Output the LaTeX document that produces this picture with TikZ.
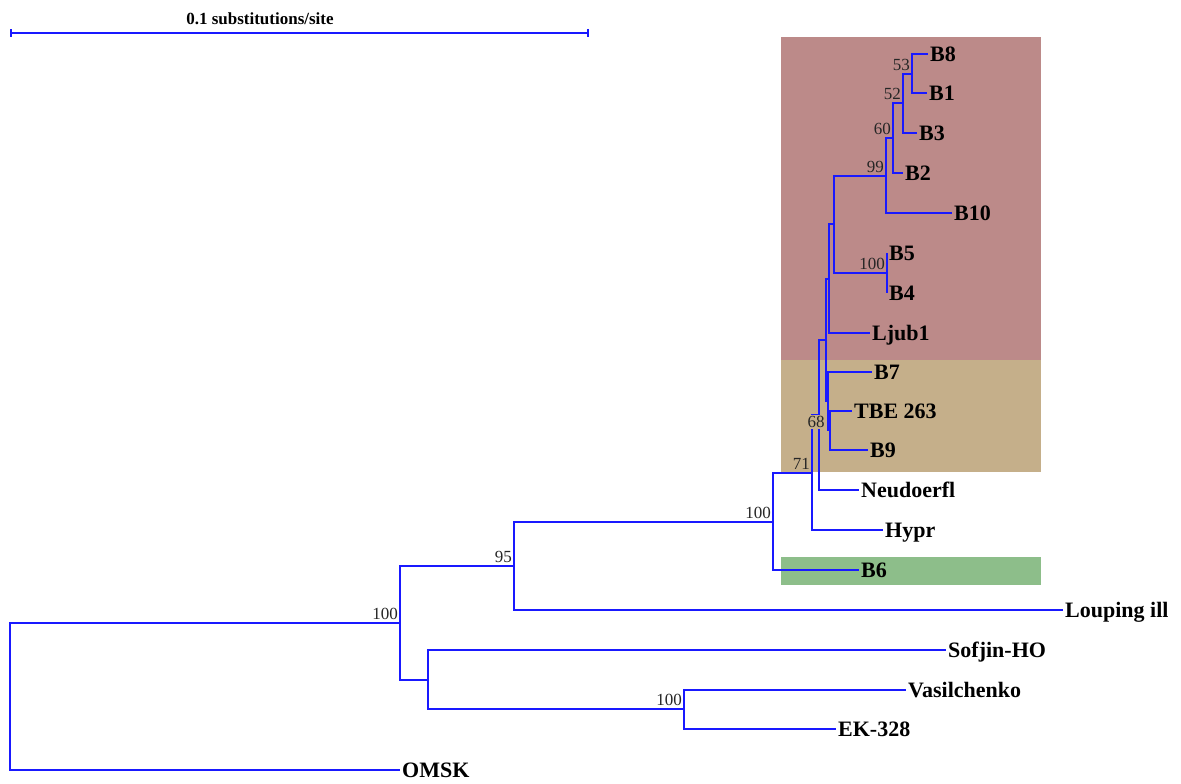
\documentclass[tikz,border=0pt]{standalone}
\usepackage{fontspec}
\setmainfont{Liberation Serif}
\usetikzlibrary{arrows.meta}
\definecolor{cladeRed}{RGB}{188,138,137}
\definecolor{cladeTan}{RGB}{197,175,138}
\definecolor{cladeGreen}{RGB}{141,190,138}
\definecolor{treeBlue}{RGB}{25,25,255}

\begin{document}
\begin{tikzpicture}[
  x=1pt, y=-1pt,
  branch/.style={draw=treeBlue, line width=1.6pt},
  leaf/.style={anchor=base west, inner sep=2pt, yshift=-7.3pt,
               font=\fontsize{22}{26}\selectfont\bfseries},
  boot/.style={anchor=south east, inner xsep=2pt, inner ysep=3.5pt,
               font=\fontsize{17}{20}\selectfont, text=black!85},
]
\useasboundingbox (0,0) rectangle (1181,784);

% Clade backgrounds
\fill[cladeRed] (781,37) rectangle (1041,360);
\fill[cladeTan] (781,360) rectangle (1041,472);
\fill[cladeGreen] (781,557) rectangle (1041,585);

% Scale bar
\coordinate (sbL) at (10,33);
\coordinate (sbR) at (589,33);
\draw[treeBlue, line width=1.6pt, {Bar[width=8pt]}-{Bar[width=8pt]}] (sbL) -- (sbR);
\node[font=\fontsize{17}{20}\selectfont\bfseries, anchor=base] (sbtext) at (260,25) {0.1 substitutions/site};

% Tips and their labels
\foreach \id/\x/\y/\lbl in {
  B8/928/54/B8, B1/927/93/B1, B3/917/133/B3, B2/903/173/B2, B10/952/213/B10,
  B5/887/253/B5, B4/887/293/B4, Ljub/870/333/Ljub1, B7/872/372/B7,
  TBE/852/411/TBE 263, B9/868/450/B9, Neud/859/490/Neudoerfl,
  Hypr/883/530/Hypr, B6/859/570/B6, Loup/1063/610/Louping ill,
  Sofj/946/650/Sofjin-HO, Vasil/906/690/Vasilchenko, EK/836/729/EK-328,
  OMSK/400/770/OMSK} {
  \coordinate (t\id) at (\x,\y);
  \node[leaf] (l\id) at (t\id) {\lbl};
}

% Internal nodes
\coordinate (n53) at (912,74);
\coordinate (n52) at (903,103);
\coordinate (n60) at (893,138);
\coordinate (n99) at (886,176);
\coordinate (nB54) at (887,273);
\coordinate (nA1) at (834,224);
\coordinate (nA2) at (829,279);
\coordinate (nR) at (830,430);
\coordinate (nQ) at (828,401);
\coordinate (nP1) at (826,340);
\coordinate (nP2) at (819,415);
\coordinate (nP3) at (812,473);
\coordinate (nP4) at (773,522);
\coordinate (nP5) at (514,566);
\coordinate (nP8) at (684,709);
\coordinate (nP7) at (428,680);
\coordinate (nP6) at (400,623);
\coordinate (nRoot) at (10,696);

% Branches
\foreach \p/\ch in {n53/tB8, n53/tB1, n52/n53, n52/tB3, n60/n52, n60/tB2,
  n99/n60, n99/tB10, nB54/tB5, nB54/tB4, nA1/n99, nA1/nB54, nA2/nA1,
  nA2/tLjub, nR/tTBE, nR/tB9, nQ/tB7, nQ/nR, nP1/nA2, nP1/nQ, nP2/nP1,
  nP2/tNeud, nP3/nP2, nP3/tHypr, nP4/nP3, nP4/tB6, nP5/nP4, nP5/tLoup,
  nP8/tVasil, nP8/tEK, nP7/tSofj, nP7/nP8, nP6/nP5, nP6/nP7,
  nRoot/nP6, nRoot/tOMSK}
  \draw[branch] (\p) |- (\ch);

% Bootstrap values
\foreach \n/\v in {n53/53, n52/52, n60/60, n99/99, nB54/100, nP3/71,
  nP4/100, nP5/95, nP6/100, nP8/100}
  \node[boot] (bs\n) at (\n) {\v};
\node[boot, anchor=center, fill=cladeTan, inner sep=1pt] (bsnP2) at (816,422) {68};

\end{tikzpicture}
\end{document}
